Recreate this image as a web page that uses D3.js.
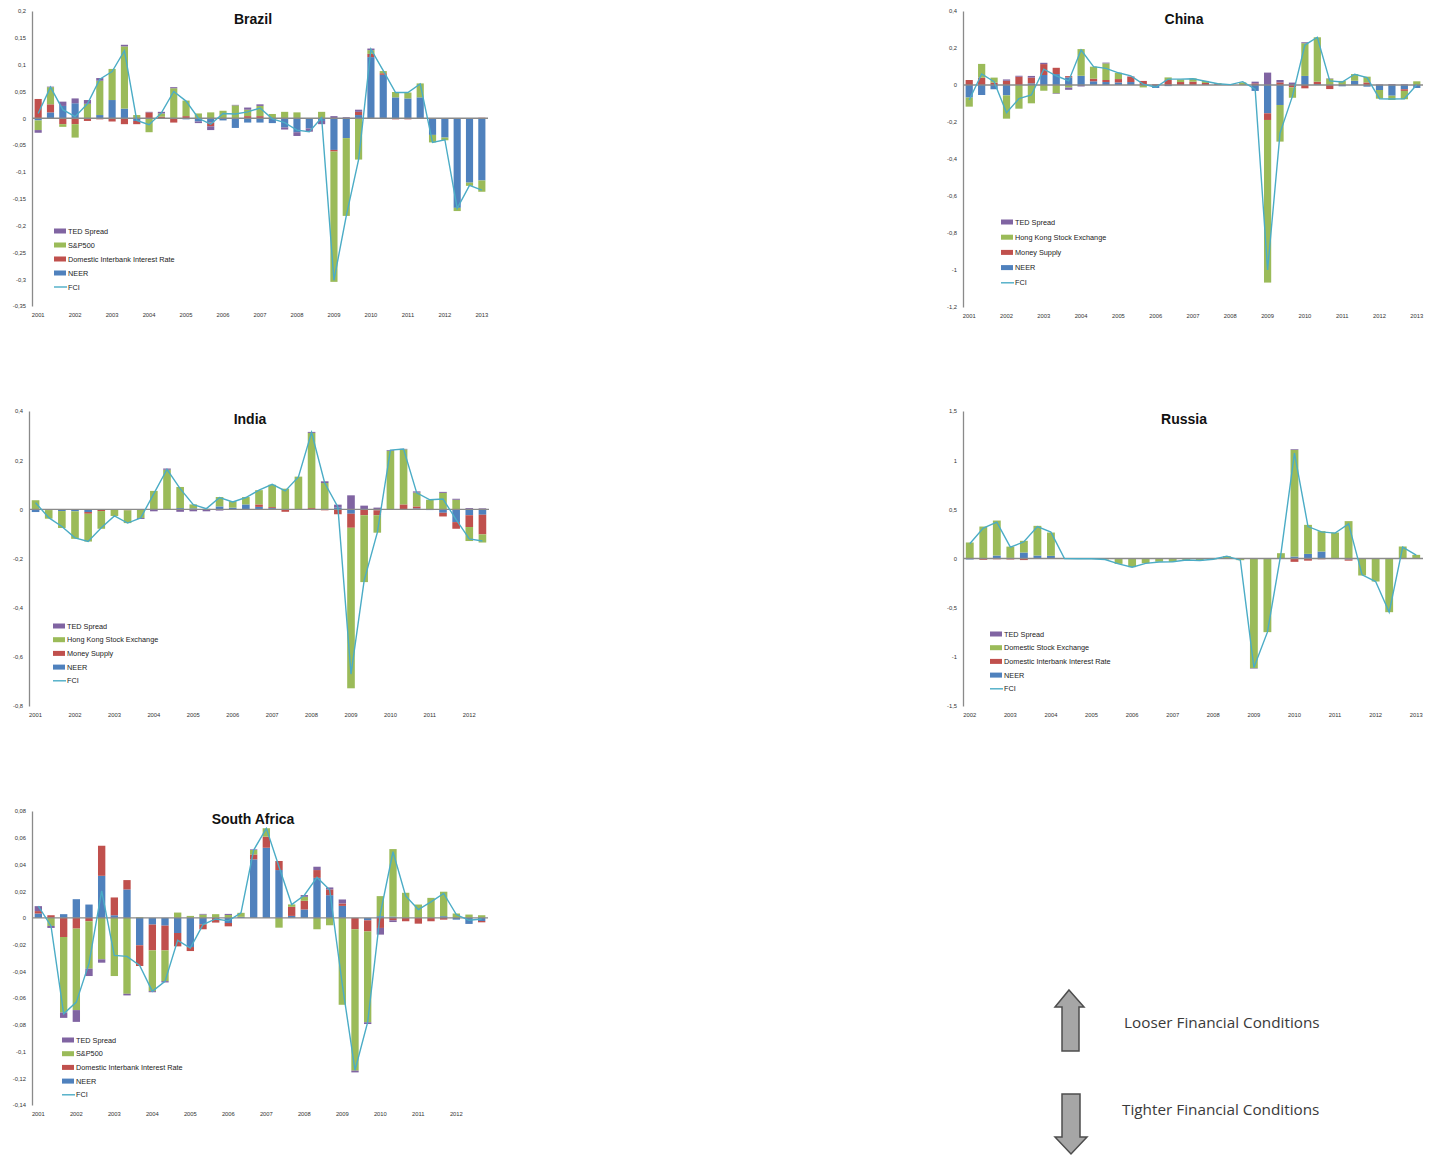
<!DOCTYPE html>
<html>
<head>
<meta charset="utf-8">
<script src="https://cdn.jsdelivr.net/npm/d3@7"></script>
<style>
body { margin: 0; background: #fff; }
svg { font-family: 'Liberation Sans', Arial, sans-serif; }
</style>
</head>
<body>
<svg id="chart" width="1429" height="1156"></svg>
<script>
// Data (3 observations per year)

var brazilYears = ['2001', '2002', '2003', '2004', '2005', '2006', '2007', '2008', '2009', '2010', '2011', '2012', '2013'];
var brazilNeer = [-0.004, 0.011, 0.023, 0.028, 0, 0.006, 0.034, 0.018, -0.005, 0, 0, 0, -0.002, -0.006, -0.008, -0.004, -0.018, -0.008, -0.008, -0.009, -0.017, -0.026, -0.019, -0.005, -0.059, -0.037, 0.006, 0.114, 0.081, 0.039, 0.037, 0.039, -0.031, -0.036, -0.167, -0.12, -0.116];
var brazilRate = [0.036, 0.015, -0.011, -0.011, -0.005, -0.002, -0.006, -0.011, -0.006, 0.011, 0.003, -0.008, 0.004, 0, -0.007, 0, 0, 0.004, 0.004, 0, 0, 0, 0, 0, -0.003, 0, 0.006, 0.006, 0.003, -0.002, -0.002, 0, 0, 0, 0, 0, 0.001];
var brazilStock = [-0.018, 0.032, -0.005, -0.025, 0.027, 0.064, 0.058, 0.116, 0.006, -0.026, 0.006, 0.056, 0.029, 0.009, 0.011, 0.014, 0.024, 0.012, 0.019, 0.008, 0.012, 0.011, 0, 0.012, -0.243, -0.145, -0.077, 0.007, 0.004, 0.01, 0.011, 0.026, -0.014, -0.005, -0.006, -0.006, -0.021];
var brazilTed = [-0.005, 0.001, 0.008, 0.009, 0.007, 0.005, 0, 0.003, 0, 0.001, 0.003, 0.002, 0, -0.003, -0.007, 0, 0.001, 0.004, 0.003, 0, -0.004, -0.007, -0.006, -0.006, 0.004, 0.002, 0.004, 0.003, 0, 0, 0, 0, 0, 0, 0, 0, 0];
var brazilFci = [0.009, 0.058, 0.016, 0.003, 0.027, 0.073, 0.087, 0.126, -0.004, -0.012, 0.01, 0.05, 0.032, 0, -0.011, 0.009, 0.008, 0.012, 0.019, -0.001, -0.008, -0.022, -0.025, 0.001, -0.302, -0.182, -0.077, 0.129, 0.089, 0.048, 0.048, 0.064, -0.045, -0.04, -0.168, -0.125, -0.134];
var brazilTicks = [0.2, 0.15, 0.1, 0.05, 0, -0.05, -0.1, -0.15, -0.2, -0.25, -0.3, -0.35];
var brazilLegend = ['TED Spread', 'S&P500', 'Domestic Interbank Interest Rate', 'NEER', 'FCI'];

var chinaYears = ['2001', '2002', '2003', '2004', '2005', '2006', '2007', '2008', '2009', '2010', '2011', '2012', '2013'];
var chinaNeer = [-0.068, -0.054, -0.023, -0.056, 0, 0.009, 0.054, 0.059, 0.041, 0.05, 0.02, 0.016, 0.014, 0.016, 0, -0.016, -0.006, 0, 0, 0, 0, 0, 0, -0.032, -0.153, -0.108, 0, 0.049, 0.005, 0, -0.007, 0.023, -0.009, -0.027, -0.058, -0.023, -0.016];
var chinaMoney = [0.027, 0.04, 0.013, 0.023, 0.045, 0.031, 0.059, 0.034, 0.007, 0, 0.014, 0.011, 0.018, 0.029, 0.022, 0.004, 0.027, 0.016, 0.018, 0.011, 0.005, 0.002, 0, 0.009, -0.036, 0.014, -0.013, -0.018, 0.013, -0.022, 0, 0, 0.014, 0, 0, -0.009, 0];
var chinaStock = [-0.049, 0.074, 0.027, -0.126, -0.128, -0.099, -0.031, -0.045, -0.014, 0.144, 0.065, 0.09, 0.034, 0, -0.013, 0, 0.014, 0.014, 0.018, 0.011, 0.005, 0.001, 0.014, 0, -0.879, -0.198, -0.056, 0.177, 0.24, 0.034, 0.022, 0.036, 0.031, -0.047, -0.023, -0.045, 0.02];
var chinaTed = [0, 0, 0, 0.007, 0.005, 0.009, 0.007, -0.003, -0.012, -0.008, 0, 0.004, 0, 0.002, 0, 0, 0, 0, 0, 0, 0, 0, 0, 0.009, 0.067, 0.013, 0.013, 0.005, 0, 0.002, 0, 0, 0, 0.003, 0.005, 0.004, 0];
var chinaFci = [-0.081, 0.06, 0.018, -0.15, -0.074, -0.054, 0.086, 0.05, 0.022, 0.189, 0.099, 0.09, 0.066, 0.049, 0.005, -0.012, 0.032, 0.032, 0.034, 0.02, 0.007, 0.002, 0.018, -0.023, -1.0, -0.26, -0.06, 0.216, 0.258, 0.022, 0.016, 0.058, 0.04, -0.074, -0.076, -0.074, 0.001];
var chinaTicks = [0.4, 0.2, 0, -0.2, -0.4, -0.6, -0.8, -1, -1.2];
var chinaLegend = ['TED Spread', 'Hong Kong Stock Exchange', 'Money Supply', 'NEER', 'FCI'];

var indiaYears = ['2001', '2002', '2003', '2004', '2005', '2006', '2007', '2008', '2009', '2010', '2011', '2012'];
var indiaNeer = [-0.011, 0, -0.007, -0.008, -0.011, 0, 0, 0, 0, 0, 0, 0.005, 0.004, 0.002, 0.012, 0.007, 0.02, 0.01, 0.005, 0, 0, 0, 0, 0.007, -0.018, 0, -0.004, 0, 0, 0.004, -0.003, -0.014, -0.052, -0.024, -0.022];
var indiaMoney = [0, -0.003, 0, 0, -0.007, -0.007, 0, -0.004, 0, 0, 0, 0, 0, 0, 0, 0, 0, 0.01, 0.004, -0.01, 0, 0.005, -0.004, -0.02, -0.057, -0.024, -0.02, 0, 0.02, 0.008, 0, -0.015, -0.027, -0.048, -0.08];
var indiaStock = [0.037, -0.035, -0.069, -0.112, -0.113, -0.072, -0.027, -0.052, -0.035, 0.075, 0.161, 0.086, 0.016, 0, 0.038, 0.026, 0.03, 0.058, 0.091, 0.084, 0.133, 0.306, 0.107, 0, -0.653, -0.272, -0.071, 0.238, 0.224, 0.056, 0.039, 0.067, 0.039, -0.057, -0.033];
var indiaTed = [0, 0, 0, 0, 0, 0, 0, 0, -0.004, -0.008, 0.005, -0.01, -0.008, -0.008, -0.005, 0, 0, 0, 0, 0, 0, 0.004, 0.007, 0.012, 0.057, 0.015, 0.007, 0.003, 0.002, 0.005, 0, 0.004, 0.004, 0.005, 0.004];
var indiaFci = [0.027, -0.034, -0.07, -0.116, -0.131, -0.075, -0.027, -0.056, -0.035, 0.064, 0.163, 0.084, 0.019, 0.003, 0.048, 0.03, 0.048, 0.078, 0.102, 0.075, 0.132, 0.313, 0.107, 0.01, -0.67, -0.29, -0.095, 0.241, 0.245, 0.067, 0.039, 0.042, -0.042, -0.12, -0.129];
var indiaTicks = [0.4, 0.2, 0, -0.2, -0.4, -0.6, -0.8];
var indiaLegend = ['TED Spread', 'Hong Kong Stock Exchange', 'Money Supply', 'NEER', 'FCI'];

var russiaYears = ['2002', '2003', '2004', '2005', '2006', '2007', '2008', '2009', '2010', '2011', '2012', '2013'];
var russiaNeer = [-0.01, -0.006, 0.03, 0.006, 0.061, 0.03, 0.027, 0, 0, 0, 0, 0, 0, 0, 0, 0, 0, 0, 0, 0, 0, 0, 0, 0, 0.02, 0.047, 0.071, 0, -0.01, 0, 0, 0, 0, 0];
var russiaRate = [0, -0.008, -0.008, -0.01, -0.016, 0, 0, 0, 0, 0, 0, 0, 0, 0, 0, 0, 0, 0, 0, 0, 0, 0.005, 0, 0, -0.034, -0.022, -0.008, -0.006, -0.012, 0, 0, 0, 0, 0];
var russiaStock = [0.163, 0.325, 0.356, 0.115, 0.119, 0.302, 0.237, 0, -0.003, -0.002, -0.01, -0.055, -0.088, -0.048, -0.033, -0.035, -0.015, -0.02, -0.007, 0.024, -0.017, -1.115, -0.749, 0.054, 1.085, 0.295, 0.207, 0.264, 0.38, -0.173, -0.234, -0.546, 0.122, 0.037];
var russiaTed = [0, 0, 0, 0, 0, 0, 0, 0, 0, 0, 0, 0, 0, 0, 0, 0, 0, 0, 0, 0, 0, -0.005, 0.005, 0, 0.007, 0, 0, 0, 0, 0, 0, 0, 0, 0];
var russiaFci = [0.15, 0.31, 0.37, 0.115, 0.17, 0.325, 0.268, 0, -0.003, -0.002, -0.01, -0.055, -0.088, -0.05, -0.035, -0.033, -0.015, -0.02, -0.007, 0.024, -0.017, -1.108, -0.749, 0.05, 1.071, 0.325, 0.271, 0.258, 0.352, -0.166, -0.234, -0.546, 0.115, 0.034];
var russiaTicks = [1.5, 1, 0.5, 0, -0.5, -1, -1.5];
var russiaLegend = ['TED Spread', 'Domestic Stock Exchange', 'Domestic Interbank Interest Rate', 'NEER', 'FCI'];

var safricaYears = ['2001', '2002', '2003', '2004', '2005', '2006', '2007', '2008', '2009', '2010', '2011', '2012'];
var safricaNeer = [0.0033, 0, 0.0028, 0.014, 0.01, 0.0315, 0.002, 0.0213, -0.0205, -0.005, -0.0058, -0.0113, -0.0218, -0.0048, 0, -0.0038, 0.0008, 0.0438, 0.0525, 0.0358, 0.0015, 0.0063, 0.03, 0.017, 0.009, 0, -0.0018, 0.0013, 0.001, 0, 0, 0, 0.0013, -0.0013, -0.0045, -0.0023];
var safricaRate = [0.0018, 0.002, -0.0143, -0.008, -0.0025, 0.0225, 0.0133, 0.007, -0.0155, -0.0193, -0.0185, -0.01, -0.003, -0.0037, -0.0035, -0.0025, 0, 0.0037, 0.0083, 0.0068, 0.0068, 0.0065, 0.0058, 0.0043, 0.0018, -0.0085, -0.0083, -0.0075, -0.0018, -0.0025, -0.0043, -0.0025, -0.0013, 0, 0, -0.001];
var safricaStock = [0, -0.006, -0.0565, -0.061, -0.0355, -0.031, -0.0435, -0.0568, 0.0005, -0.0305, -0.023, 0.004, 0.0015, 0.0025, 0.0028, 0.0022, 0.003, 0.0033, 0.0063, -0.0073, 0.0018, 0.003, -0.0085, -0.0055, -0.065, -0.1058, -0.068, 0.015, 0.0505, 0.0188, 0.01, 0.015, 0.0183, 0.0033, 0.0025, 0.002];
var safricaTed = [0.0037, -0.0015, -0.004, -0.0088, -0.0055, -0.0025, 0, -0.0012, 0, -0.0008, -0.001, 0, 0, 0.0005, 0, 0.0008, 0, 0.0005, 0, 0, 0, 0.0013, 0.0025, 0.0015, 0.003, -0.0013, -0.0013, -0.005, -0.0013, 0, 0, 0, 0, 0, 0, 0];
var safricaFci = [0.0088, -0.006, -0.0718, -0.063, -0.034, 0.0203, -0.028, -0.0288, -0.0355, -0.055, -0.0475, -0.0168, -0.0225, -0.005, -0.0008, -0.0022, 0.0038, 0.0508, 0.067, 0.0383, 0.01, 0.017, 0.0303, 0.021, -0.05, -0.114, -0.078, 0.0033, 0.0495, 0.0165, 0.0063, 0.012, 0.0183, 0.0025, -0.0018, -0.0008];
var safricaTicks = [0.08, 0.06, 0.04, 0.02, 0, -0.02, -0.04, -0.06, -0.08, -0.1, -0.12, -0.14];
var safricaLegend = ['TED Spread', 'S&P500', 'Domestic Interbank Interest Rate', 'NEER', 'FCI'];

var keys = ['neer', 'rate', 'stock', 'ted'];
var colors = { neer: '#4F81BD', rate: '#C0504D', stock: '#9BBB59', ted: '#8064A2' };
var legendColors = ['#8064A2', '#9BBB59', '#C0504D', '#4F81BD'];
var fciColor = '#4BACC6';
var perYear = 3;

var svg = d3.select('#chart');

function fmt(d) {
	return String(Math.round(d * 1000) / 1000).replace('.', ',');
}

function drawPanel(p) {
	var n = p.fci.length;
	var rows = d3.range(n).map(function (i) {
		return { i: i, neer: p.neer[i], rate: p.rate[i], stock: p.stock[i], ted: p.ted[i] };
	});

	var xScale = d3.scaleBand()
		.domain(d3.range(n))
		.range([p.x0, p.x1])
		.paddingInner(0.42)
		.paddingOuter(0.21);
	var yScale = d3.scaleLinear()
		.domain([p.ticks[p.ticks.length - 1], p.ticks[0]])
		.range([p.y0 + p.h, p.y0]);
	var bw = xScale.bandwidth();

	var g = svg.append('g');

	// y axis
	var yAxis = d3.axisLeft(yScale)
		.tickValues(p.ticks)
		.tickSize(0)
		.tickPadding(6)
		.tickFormat(fmt);
	var ya = g.append('g')
		.attr('transform', 'translate(' + p.x0 + ',0)')
		.call(yAxis);
	ya.select('.domain').style('stroke', '#8a8a8a').style('stroke-width', '1.3px');
	ya.selectAll('text').style('font-size', '5.8px').style('fill', '#333');

	// stacked bars
	var stack = d3.stack().keys(keys).offset(d3.stackOffsetDiverging);
	var layers = stack(rows);

	g.selectAll('g.layer')
		.data(layers)
		.enter()
		.append('g')
		.attr('class', 'layer')
		.style('fill', function (d) { return colors[d.key]; })
		.selectAll('rect')
		.data(function (d) { return d; })
		.enter()
		.append('rect')
		.attr('x', function (d) { return xScale(d.data.i); })
		.attr('y', function (d) { return yScale(Math.max(d[0], d[1])); })
		.attr('width', bw)
		.attr('height', function (d) { return Math.abs(yScale(d[0]) - yScale(d[1])); });

	// zero line
	g.append('line')
		.attr('x1', p.x0)
		.attr('x2', p.x1)
		.attr('y1', yScale(0))
		.attr('y2', yScale(0))
		.style('stroke', '#8a8a8a')
		.style('stroke-width', '1.3px');

	// FCI line
	var line = d3.line()
		.x(function (d, i) { return xScale(i) + bw / 2; })
		.y(function (d) { return yScale(d); });
	g.append('path')
		.datum(p.fci)
		.attr('d', line)
		.style('fill', 'none')
		.style('stroke', fciColor)
		.style('stroke-width', '1.4px');

	// year labels
	g.selectAll('text.year')
		.data(p.years)
		.enter()
		.append('text')
		.attr('class', 'year')
		.attr('x', function (d, i) { return xScale(i * perYear) + bw / 2; })
		.attr('y', p.y0 + p.h + 11)
		.style('text-anchor', 'middle')
		.style('font-size', '5.8px')
		.style('fill', '#333')
		.text(function (d) { return d; });

	// title
	g.append('text')
		.attr('x', p.x0 + 221)
		.attr('y', p.y0 + 13)
		.style('text-anchor', 'middle')
		.style('font-size', '14px')
		.style('font-weight', 'bold')
		.style('fill', '#111')
		.text(p.title);

	// legend
	var leg = g.selectAll('g.leg')
		.data(p.legend)
		.enter()
		.append('g')
		.attr('class', 'leg')
		.attr('transform', function (d, i) {
			return 'translate(' + p.legX + ',' + (p.legY + i * p.legGap) + ')';
		});
	leg.filter(function (d, i) { return i < 4; })
		.append('rect')
		.attr('x', 0)
		.attr('y', -2.5)
		.attr('width', 12)
		.attr('height', 5)
		.style('fill', function (d, i) { return legendColors[i]; });
	leg.filter(function (d, i) { return i === 4; })
		.append('line')
		.attr('x1', 0)
		.attr('x2', 13)
		.style('stroke', fciColor)
		.style('stroke-width', '1.4px');
	leg.append('text')
		.attr('x', 14)
		.attr('y', 2.5)
		.style('font-size', '7.3px')
		.style('fill', '#222')
		.text(function (d) { return d; });
}

drawPanel({ title: 'Brazil', x0: 32, x1: 488, y0: 11, h: 295, years: brazilYears, ticks: brazilTicks,
	neer: brazilNeer, rate: brazilRate, stock: brazilStock, ted: brazilTed, fci: brazilFci,
	legend: brazilLegend, legX: 54, legY: 231, legGap: 14 });
drawPanel({ title: 'China', x0: 963, x1: 1423, y0: 11, h: 296, years: chinaYears, ticks: chinaTicks,
	neer: chinaNeer, rate: chinaMoney, stock: chinaStock, ted: chinaTed, fci: chinaFci,
	legend: chinaLegend, legX: 1001, legY: 222, legGap: 15.2 });
drawPanel({ title: 'India', x0: 29, x1: 489, y0: 411, h: 295, years: indiaYears, ticks: indiaTicks,
	neer: indiaNeer, rate: indiaMoney, stock: indiaStock, ted: indiaTed, fci: indiaFci,
	legend: indiaLegend, legX: 53, legY: 626, legGap: 13.7 });
drawPanel({ title: 'Russia', x0: 963, x1: 1423, y0: 411, h: 295, years: russiaYears, ticks: russiaTicks,
	neer: russiaNeer, rate: russiaRate, stock: russiaStock, ted: russiaTed, fci: russiaFci,
	legend: russiaLegend, legX: 990, legY: 634, legGap: 13.7 });
drawPanel({ title: 'South Africa', x0: 32, x1: 488, y0: 811, h: 294, years: safricaYears, ticks: safricaTicks,
	neer: safricaNeer, rate: safricaRate, stock: safricaStock, ted: safricaTed, fci: safricaFci,
	legend: safricaLegend, legX: 62, legY: 1040, legGap: 13.7 });

// Arrows / notes
var arrows = svg.append('g')
	.style('fill', '#a6a6a6')
	.style('stroke', '#4d4d4d')
	.style('stroke-width', '1.5px');
arrows.append('path')
	.attr('d', 'M1069,990 L1084,1007 L1079,1007 L1079,1051 L1062,1051 L1062,1007 L1055,1007 Z');
arrows.append('path')
	.attr('d', 'M1062,1094 L1080,1094 L1080,1137 L1087,1137 L1071,1154 L1055,1137 L1062,1137 Z');

svg.append('text')
	.attr('x', 1124)
	.attr('y', 1028)
	.style('font-family', "'Open Sans', sans-serif")
	.style('font-size', '15.3px')
	.style('fill', '#3a3a3a')
	.text('Looser Financial Conditions');
svg.append('text')
	.attr('x', 1122)
	.attr('y', 1115)
	.style('font-family', "'Open Sans', sans-serif")
	.style('font-size', '15.3px')
	.style('fill', '#3a3a3a')
	.text('Tighter Financial Conditions');
</script>
</body>
</html>
